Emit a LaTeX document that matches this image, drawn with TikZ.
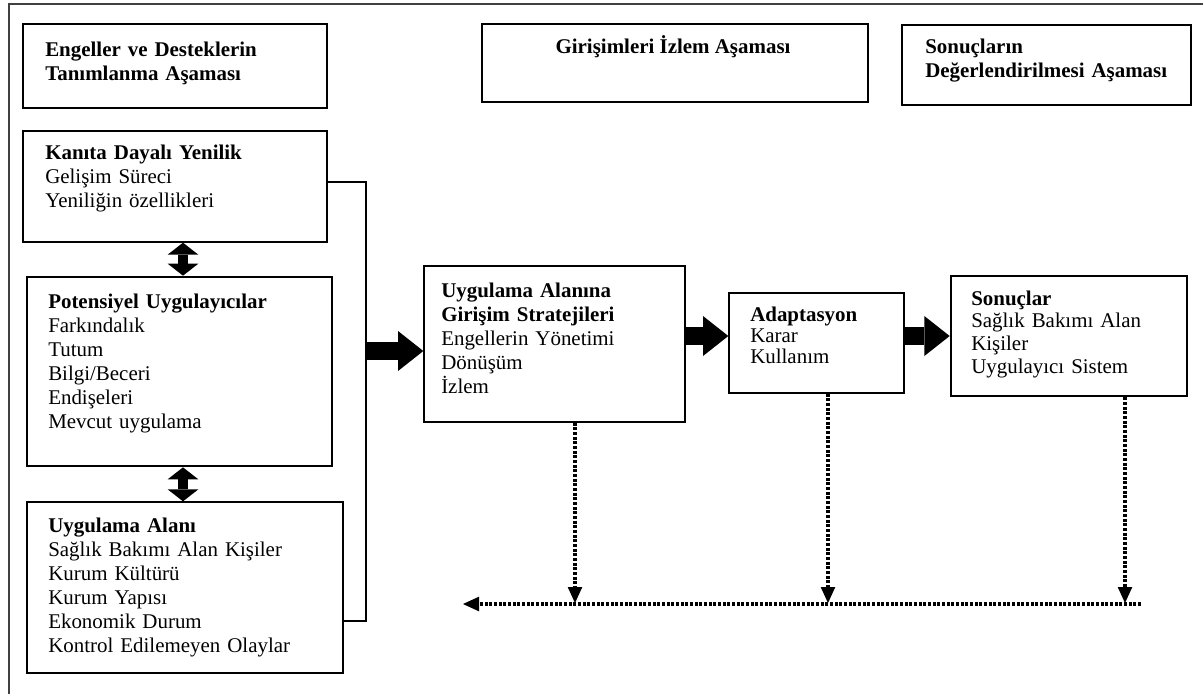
\documentclass[tikz,border=0pt]{standalone}
\usepackage{fontspec}
\setmainfont{Liberation Serif}
\usetikzlibrary{arrows.meta, fit, calc}

\begin{document}
\begin{tikzpicture}[
    x=0.75pt, y=-0.75pt,
    font=\fontsize{15.7}{18}\selectfont,
    % Kutu stilleri
    kutu/.style={rectangle, draw=black, line width=1pt, inner sep=0pt},
    kalinkutu/.style={kutu, line width=2pt},
    metin/.style={anchor=base west, align=left, text width=260pt, inner sep=0pt},
    % Ok stilleri
    blokok/.style={line width=13pt, -{Triangle[length=19pt, width=30pt, line width=0pt]}},
    ciftok/.style={line width=7.5pt, {Triangle[length=9pt, width=23pt, line width=0pt]}-{Triangle[length=9pt, width=23pt, line width=0pt]}},
    izlemok/.style={line width=2.6pt, dash pattern=on 2.2pt off 1.3pt, -{Triangle[length=12pt, width=11pt, line width=0pt]}}
]
\useasboundingbox (0,0) rectangle (1203,694);
\draw[line width=1pt, black!75] (1203,4) -- (9,4) -- (9,694);

% -------------------------
% Asama basliklari
% -------------------------
\node[kalinkutu, fit={(23,24) (327,108)}] (engeller) {};
\node[metin] (engellerYazi) at (45,56) {\textbf{Engeller ve Desteklerin}\\\textbf{Tanımlanma Aşaması}};

\node[kutu, fit={(482,24) (868,102)}] (izlem) {};
\node[anchor=base, inner sep=0pt] (izlemYazi) at (673,53) {\textbf{Girişimleri İzlem Aşaması}};

\node[kalinkutu, fit={(902,25) (1191,105)}] (degerlendirme) {};
\node[metin] (degerlendirmeYazi) at (925,53) {\textbf{Sonuçların}\\\textbf{Değerlendirilmesi Aşaması}};

% -------------------------
% Engeller ve destekler (sol)
% -------------------------
\node[kutu, fit={(23,131) (327,242)}] (kanit) {};
\node[metin] (kanitYazi) at (45,159) {\textbf{Kanıta Dayalı Yenilik}\\Gelişim Süreci\\Yeniliğin özellikleri};

\node[kalinkutu, fit={(27,277) (332,466)}] (uygulayici) {};
\node[metin] (uygulayiciYazi) at (48,308) {\textbf{Potensiyel Uygulayıcılar}\\Farkındalık\\Tutum\\Bilgi/Beceri\\Endişeleri\\Mevcut uygulama};

\node[kutu, fit={(27,502) (343,673)}] (alan) {};
\node[metin] (alanYazi) at (48,532) {\textbf{Uygulama Alanı}\\Sağlık Bakımı Alan Kişiler\\Kurum Kültürü\\Kurum Yapısı\\Ekonomik Durum\\Kontrol Edilemeyen Olaylar};

\coordinate (ortax) at (183,0);
\draw[ciftok] (kanit.south -| ortax) -- (uygulayici.north -| ortax);
\draw[ciftok] (uygulayici.south -| ortax) -- (alan.north -| ortax);

% -------------------------
% Girisim, adaptasyon, sonuc (sag)
% -------------------------
\node[kutu, fit={(424,266) (685,422)}] (girisim) {};
\node[metin] (girisimYazi) at (441,297) {\textbf{Uygulama Alanına}\\\textbf{Girişim Stratejileri}\\Engellerin Yönetimi\\Dönüşüm\\İzlem};

\node[kutu, fit={(729,293) (904,393)}] (adaptasyon) {};
\node[metin, font=\fontsize{15.7}{15.75}\selectfont] (adaptasyonYazi) at (750,321) {\textbf{Adaptasyon}\\Karar\\Kullanım};

\node[kalinkutu, fit={(951,276) (1187,396)}] (sonuc) {};
\node[metin, font=\fontsize{15.7}{17}\selectfont] (sonucYazi) at (971,305) {\textbf{Sonuçlar}\\Sağlık Bakımı Alan\\Kişiler\\Uygulayıcı Sistem};

% Sol kutulari toplayan cizgi ve ana ok
\coordinate (kol) at (366,351);
\draw[line width=1pt] ([yshift=3.4pt]kanit.east) -| (kol) |- ([yshift=-25pt]alan.east);
\draw[blokok] (kol) -- (kol -| girisim.west);
\draw[blokok] (girisim.east |- sonuc.center) -- (adaptasyon.west |- sonuc.center);
\draw[blokok] (adaptasyon.east |- sonuc.center) -- (sonuc.west);

% Izlem (noktali) oklari
\coordinate (izlemA) at (575,603);
\coordinate (izlemB) at (828,603);
\coordinate (izlemC) at (1125,603);
\coordinate (hatBas) at (1141,604);
\coordinate (hatSon) at (463,604);
\draw[izlemok] (girisim.south -| izlemA) -- (izlemA);
\draw[izlemok] (adaptasyon.south -| izlemB) -- (izlemB);
\draw[izlemok] (sonuc.south -| izlemC) -- (izlemC);
\draw[izlemok] (hatBas) -- (hatSon);

\end{tikzpicture}
\end{document}
